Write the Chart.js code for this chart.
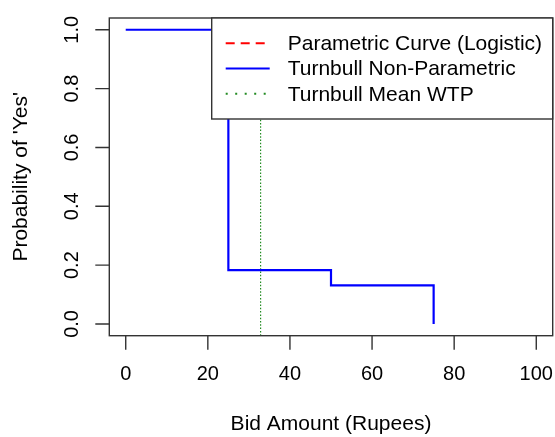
<!DOCTYPE html>
<html>
<head>
<meta charset="utf-8">
<script src="https://cdn.jsdelivr.net/npm/chart.js@4/dist/chart.umd.min.js"></script>
<style>
  html, body { margin: 0; padding: 0; background: #fff; }
  canvas { display: block; }
</style>
</head>
<body>
<canvas id="c" width="555" height="437"></canvas>
<script>
// ---- data ----
const bids = [0, 25, 50, 75];
const turnbullProb = [1.0, 0.183, 0.131, 0.0];
const meanWTP = 32.85;
const parametricX = [];
const parametricY = [];
const xTicks = [0, 20, 40, 60, 80, 100];
const xTickLabels = ['0', '20', '40', '60', '80', '100'];
const yTicks = [0.0, 0.2, 0.4, 0.6, 0.8, 1.0];
const yTickLabels = ['0.0', '0.2', '0.4', '0.6', '0.8', '1.0'];
const seriesLabels = ['Parametric Curve (Logistic)', 'Turnbull Non-Parametric', 'Turnbull Mean WTP'];
const xTitle = 'Bid Amount (Rupees)';
const yTitle = "Probability of 'Yes'";
const xLimits = [-4, 104];
const yLimits = [-0.04, 1.04];

const FONT = '"Liberation Sans", Arial, sans-serif';
const AXIS_COLOR = '#333333';

const rPlot = {
  id: 'rPlot',
  afterDatasetsDraw(chart) {
    const ctx = chart.ctx;
    const ca = chart.chartArea;
    const xs = chart.scales.x, ys = chart.scales.y;
    ctx.save();
    // frame
    ctx.strokeStyle = AXIS_COLOR;
    ctx.lineWidth = 1.4;
    ctx.strokeRect(ca.left, ca.top, ca.right - ca.left, ca.bottom - ca.top);
    // ticks
    const tl = 14;
    ctx.beginPath();
    xTicks.forEach(v => {
      const px = xs.getPixelForValue(v);
      ctx.moveTo(px, ca.bottom);
      ctx.lineTo(px, ca.bottom + tl);
    });
    yTicks.forEach(v => {
      const py = ys.getPixelForValue(v);
      ctx.moveTo(ca.left, py);
      ctx.lineTo(ca.left - tl, py);
    });
    ctx.stroke();
    // tick labels
    ctx.fillStyle = '#000';
    ctx.font = '20px ' + FONT;
    ctx.textAlign = 'center';
    ctx.textBaseline = 'middle';
    xTicks.forEach((v, i) => {
      ctx.fillText(xTickLabels[i], xs.getPixelForValue(v), ca.bottom + 39);
    });
    yTicks.forEach((v, i) => {
      ctx.save();
      ctx.translate(ca.left - 37, ys.getPixelForValue(v));
      ctx.rotate(-Math.PI / 2);
      ctx.fillText(yTickLabels[i], 0, 0);
      ctx.restore();
    });
    // axis titles
    ctx.font = '21px ' + FONT;
    ctx.fillText(xTitle, (ca.left + ca.right) / 2, ca.bottom + 89);
    ctx.save();
    ctx.translate(21, (ca.top + ca.bottom) / 2);
    ctx.rotate(-Math.PI / 2);
    ctx.fillText(yTitle, 0, 0);
    ctx.restore();

    // legend (topright)
    const lw = 341, lh = 101;
    const lx = ca.right - lw, ly = ca.top;
    ctx.fillStyle = '#fff';
    ctx.fillRect(lx, ly, lw, lh);
    ctx.strokeStyle = AXIS_COLOR;
    ctx.lineWidth = 1.4;
    ctx.strokeRect(lx, ly, lw, lh);
    const legendDash = [[9, 6], [], [2, 7.5]];
    const legendWidth = [2, 2, 2];
    chart.data.datasets.forEach((ds, i) => {
      const cy = ly + lh * (i + 1) / 4;
      ctx.save();
      ctx.strokeStyle = ds.borderColor;
      ctx.lineWidth = legendWidth[i];
      ctx.setLineDash(legendDash[i]);
      ctx.beginPath();
      ctx.moveTo(lx + 14, cy);
      ctx.lineTo(lx + 58, cy);
      ctx.stroke();
      ctx.restore();
      ctx.fillStyle = '#000';
      ctx.textAlign = 'left';
      ctx.textBaseline = 'middle';
      ctx.font = '21px ' + FONT;
      ctx.fillText(ds.label, lx + 76, cy + 1);
    });
    ctx.restore();
  }
};

new Chart(document.getElementById('c'), {
  type: 'scatter',
  data: {
    datasets: [
      {
        label: seriesLabels[0],
        data: parametricX.map((x, i) => ({ x: x, y: parametricY[i] })),
        showLine: true, borderColor: '#ff0000', borderWidth: 2, borderDash: [9, 6],
        pointRadius: 0
      },
      {
        label: seriesLabels[1],
        data: bids.map((b, i) => ({ x: b, y: turnbullProb[i] })),
        showLine: true, stepped: 'before', borderColor: '#0000ff', borderWidth: 2.2,
        pointRadius: 0
      },
      {
        label: seriesLabels[2],
        data: [{ x: meanWTP, y: yLimits[0] }, { x: meanWTP, y: yLimits[1] }],
        showLine: true, borderColor: '#228B22', borderWidth: 1.2, borderDash: [1.5, 1.8],
        pointRadius: 0
      }
    ]
  },
  options: {
    responsive: false,
    animation: false,
    events: [],
    layout: { padding: { left: 109.3, right: 2.3, top: 18, bottom: 101.3 } },
    plugins: { legend: { display: false }, tooltip: { enabled: false } },
    scales: {
      x: { type: 'linear', display: false, min: xLimits[0], max: xLimits[1] },
      y: { type: 'linear', display: false, min: yLimits[0], max: yLimits[1] }
    }
  },
  plugins: [rPlot]
});
</script>
</body>
</html>
